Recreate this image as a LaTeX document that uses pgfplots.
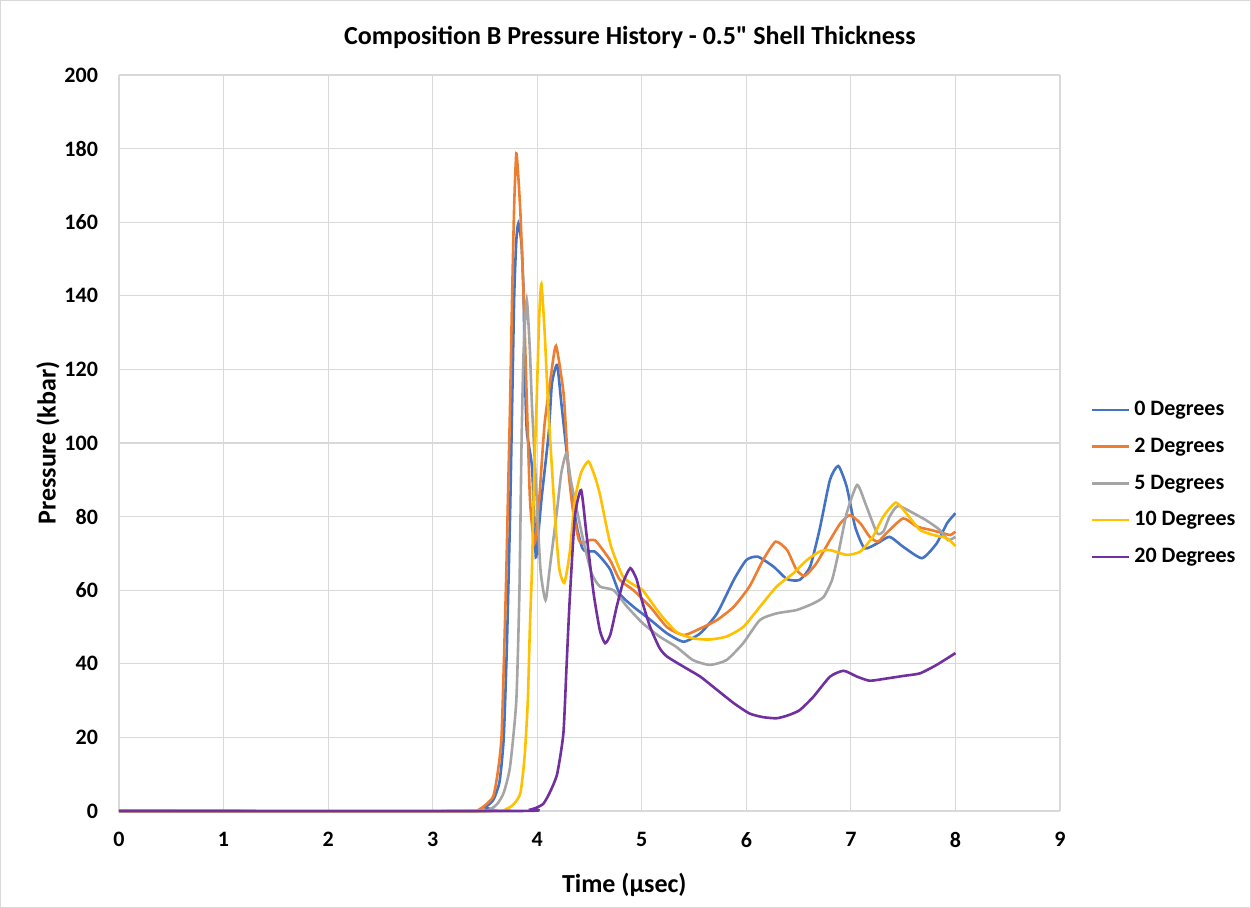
\documentclass[border=0pt]{standalone}
\usepackage{fontspec}
\setmainfont{Carlito}
\usepackage{pgfplots}
\pgfplotsset{compat=1.18}
\definecolor{cblue}{HTML}{4472C4}
\definecolor{corange}{HTML}{ED7D31}
\definecolor{cgray}{HTML}{A5A5A5}
\definecolor{cyellow}{HTML}{FFC000}
\definecolor{cpurple}{HTML}{7030A0}
\definecolor{gridc}{HTML}{D9D9D9}
\begin{document}
\begin{tikzpicture}
\begin{axis}[
  at={(0,0)}, anchor=south west,
  scale only axis, width=470.5pt, height=368pt,
  xmin=0, xmax=9, ymin=0, ymax=200,
  xtick={0,1,...,9}, ytick={0,20,...,200},
  grid=major, major grid style={gridc, line width=0.6pt},
  axis line style={draw=none},
  axis x line*=bottom, axis y line*=left,
  x axis line style={gridc, line width=0.6pt},
  tick style={draw=none},
  ticklabel style={font=\bfseries\fontsize{11}{13}\selectfont},
  /pgf/number format/assume math mode=true,
  xticklabel style={yshift=-7pt},
  yticklabel style={xshift=-7pt},
  clip=false,
  legend style={at={(axis description cs:1.026,0.445)}, anchor=west, draw=none, fill=none,
    font=\bfseries\fontsize{11}{13}\selectfont, row sep=5.7pt, cells={anchor=west}},
  legend image code/.code={\draw[#1, line width=1.25pt] (0pt,0pt) -- (18.5pt,0pt);},
  every axis plot/.append style={line width=1.3pt, smooth, tension=0.35},
]
% 0 Degrees
\addplot[cblue] coordinates {(0,0)(3.40,0)(3.50,1)(3.58,3)(3.64,8)(3.68,20)(3.71,45)(3.74,80)(3.76,110)(3.78,140)(3.80,155)(3.82,159.7)(3.85,154)(3.87,140)(3.88,121.7)(3.90,103.5)(3.95,93.5)(3.98,73.6)(3.99,69)(4.04,84.5)(4.11,102.7)(4.14,116)(4.19,121.2)(4.23,111)(4.28,98)(4.33,86.4)(4.38,77)(4.43,71.5)(4.47,70.5)(4.55,70.5)(4.62,68.5)(4.70,65.5)(4.79,59)(4.92,55.5)(5.08,52)(5.24,48.3)(5.40,46)(5.56,48.3)(5.72,53.7)(5.88,62.8)(6.00,68.2)(6.11,69.1)(6.26,66.4)(6.39,63)(6.51,62.8)(6.61,66.4)(6.70,76.4)(6.80,90)(6.88,93.75)(6.96,88.1)(7.04,77.3)(7.13,71.4)(7.25,72.7)(7.37,74.5)(7.50,71.8)(7.68,68.7)(7.82,72.7)(7.92,78.2)(8.0,80.9)};
\addlegendentry{0 Degrees}
% 2 Degrees
\addplot[corange] coordinates {(0,0)(3.35,0)(3.45,0.5)(3.52,2)(3.58,4)(3.62,10)(3.66,21)(3.70,60)(3.72,85)(3.74,110)(3.76,140)(3.78,165)(3.80,178.7)(3.82,172)(3.84,162)(3.87,140)(3.90,112)(3.93,85)(3.96,75)(3.98,73)(4.02,85)(4.07,105)(4.13,118)(4.18,126.4)(4.25,114)(4.275,103.5)(4.30,92)(4.345,81)(4.40,73.5)(4.44,72.8)(4.50,73.6)(4.55,73.6)(4.60,72)(4.70,68)(4.79,62.8)(4.92,60)(5.08,55.5)(5.24,50)(5.40,47.8)(5.56,49.6)(5.72,51.9)(5.88,55.5)(6.03,61)(6.16,68.2)(6.28,73.2)(6.39,70.9)(6.48,65.5)(6.56,63.9)(6.67,67.3)(6.80,73.6)(6.90,78.2)(6.99,80.4)(7.09,78.2)(7.18,74.5)(7.26,73.2)(7.34,75.5)(7.50,79.5)(7.63,77.3)(7.76,76.4)(7.88,75.5)(7.95,75)(8.0,75.9)};
\addlegendentry{2 Degrees}
% 5 Degrees
\addplot[cgray] coordinates {(0,0)(3.40,0)(3.55,0.5)(3.62,2)(3.68,5)(3.74,12)(3.80,30)(3.83,60)(3.85,100)(3.87,125)(3.90,138.9)(3.93,125)(3.95,110)(3.98,93.5)(4.03,66)(4.08,57.3)(4.12,66)(4.19,81.8)(4.23,91.8)(4.28,97.2)(4.32,90)(4.36,84.5)(4.44,73.6)(4.52,64.6)(4.60,61)(4.73,60)(4.86,55.5)(5.01,51)(5.17,47.4)(5.33,44.6)(5.49,41)(5.65,39.7)(5.81,41)(5.97,45.6)(6.13,51.9)(6.29,53.7)(6.48,54.6)(6.64,56.4)(6.74,58.2)(6.82,62.8)(6.88,70)(6.96,80.9)(7.06,88.6)(7.15,82.7)(7.25,75.5)(7.31,75.9)(7.37,80)(7.45,82.9)(7.60,80.9)(7.72,79)(7.85,76.4)(7.93,73.6)(8.0,74.5)};
\addlegendentry{5 Degrees}
% 10 Degrees
\addplot[cyellow] coordinates {(0,0)(3.50,0)(3.70,0.5)(3.78,2)(3.84,5)(3.88,15)(3.91,30)(3.93,50)(3.95,66)(3.97,90)(3.995,112)(4.02,135)(4.04,143.2)(4.07,130.7)(4.10,112.6)(4.12,102.7)(4.17,80)(4.21,66)(4.26,62)(4.31,70)(4.36,84.5)(4.42,92)(4.49,95)(4.55,91)(4.60,86)(4.70,72.5)(4.82,63.7)(4.95,61)(5.01,60)(5.17,53.7)(5.33,48.7)(5.49,46.9)(5.65,46.6)(5.81,47.4)(5.97,50)(6.13,55.5)(6.29,61)(6.45,64.6)(6.58,68.2)(6.70,70.5)(6.80,70.9)(6.96,69.6)(7.09,70.5)(7.21,74.5)(7.31,80)(7.43,83.8)(7.53,80.9)(7.66,76.4)(7.79,75)(7.92,74.1)(8.0,72)};
\addlegendentry{10 Degrees}
% 20 Degrees
\addplot[cpurple] coordinates {(0,0)(3.80,0)(3.95,0.5)(4.00,1)(4.06,2)(4.12,5)(4.19,10)(4.25,21)(4.28,39)(4.31,57)(4.36,80)(4.42,87.2)(4.47,75.5)(4.54,59)(4.60,49)(4.65,45.6)(4.70,48)(4.76,55.5)(4.82,62)(4.89,66)(4.95,63)(5.00,57.3)(5.08,50)(5.17,44.3)(5.24,42)(5.40,39.2)(5.56,36.5)(5.72,32.9)(5.88,29.3)(6.03,26.5)(6.16,25.5)(6.29,25.2)(6.40,26)(6.51,27.4)(6.64,31)(6.80,36.5)(6.93,38.1)(7.06,36.5)(7.18,35.4)(7.34,36)(7.50,36.7)(7.66,37.4)(7.82,39.7)(8.0,42.9)};
\addlegendentry{20 Degrees}
\node[font=\bfseries\fontsize{13}{15}\selectfont, anchor=base] at (axis description cs:0.543,1) [yshift=15pt] {Composition B Pressure History - 0.5\textquotedbl{} Shell Thickness};
\node[font=\bfseries\fontsize{13}{15}\selectfont, anchor=base] at (axis description cs:0.537,0) [yshift=-41pt] {Time (µsec)};
\node[font=\bfseries\fontsize{13}{15}\selectfont, rotate=90, anchor=center] at (axis description cs:-0.0755,0.5) {Pressure (kbar)};
\end{axis}
\pgfresetboundingbox
\draw[gridc, line width=0.5pt] (-59.25pt,-48.25pt) rectangle (565.75pt,405.25pt);
\path[use as bounding box] (-59.5pt,-48.5pt) rectangle (566pt,405.5pt);
\end{tikzpicture}
\end{document}
